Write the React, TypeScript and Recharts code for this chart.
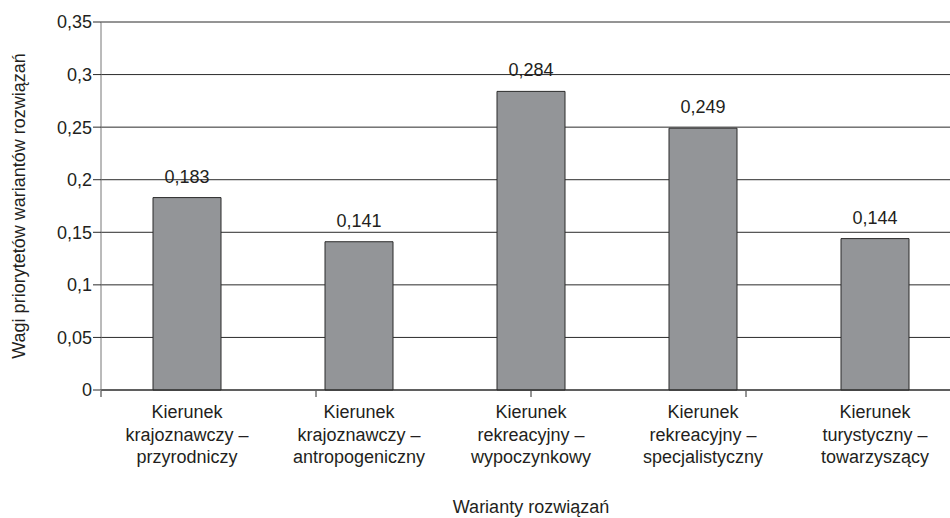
import { BarChart, Bar, XAxis, YAxis, CartesianGrid, LabelList, Label } from "recharts";

const categories = [
  "Kierunek\nkrajoznawczy –\nprzyrodniczy",
  "Kierunek\nkrajoznawczy –\nantropogeniczny",
  "Kierunek\nrekreacyjny –\nwypoczynkowy",
  "Kierunek\nrekreacyjny –\nspecjalistyczny",
  "Kierunek\nturystyczny –\ntowarzyszący",
];
const weights = [0.183, 0.141, 0.284, 0.249, 0.144];
const yTicks = [0, 0.05, 0.1, 0.15, 0.2, 0.25, 0.3, 0.35];
const edgeTicks = [0, 1, 2, 3, 4, 5];

const data = categories.map((name, i) => ({ name, weight: weights[i] }));

const FONT = "'Liberation Sans', Arial, sans-serif";
const TEXT = "#231f20";
const SIZE = 18;

const comma = (v: number) => String(v).replace(".", ",");

function CategoryTick(props: any) {
  const { x, y, payload } = props;
  const lines = String(payload.value).split("\n");
  return (
    <text x={x} y={y + 26} textAnchor="middle" fontSize={SIZE} fontFamily={FONT} fill={TEXT}>
      {lines.map((l, i) => (
        <tspan key={i} x={x} dy={i === 0 ? 0 : 22.5}>
          {l}
        </tspan>
      ))}
    </text>
  );
}

export default function App() {
  return (
    <div style={{ position: "absolute", left: 0, top: 0, width: 950, height: 518, overflow: "hidden", background: "#fff" }}>
      <BarChart width={962} height={518} data={data} margin={{ top: 22, right: 1, left: 0, bottom: 0 }} barSize={68}>
        <CartesianGrid horizontal vertical={false} stroke="#2b2b2b" />
        <XAxis
          xAxisId="edges"
          type="number"
          domain={[0, 5]}
          ticks={edgeTicks}
          height={127}
          tick={() => <g />}
          tickSize={6}
          axisLine={false}
          tickLine={{ stroke: "#2b2b2b" }}
        >
          <Label
            content={(p: any) => {
              const vb = p.viewBox;
              return (
                <text x={vb.x + vb.width / 2} y={513} textAnchor="middle" fontSize={SIZE} fontFamily={FONT} fill={TEXT}>
                  Warianty rozwiązań
                </text>
              );
            }}
          />
        </XAxis>
        <XAxis
          dataKey="name"
          height={1}
          tickLine={false}
          tickSize={0}
          axisLine={{ stroke: "#2b2b2b" }}
          tick={<CategoryTick />}
          interval={0}
        />
        <YAxis
          width={101}
          domain={[0, 0.35]}
          ticks={yTicks}
          tickFormatter={comma}
          tickSize={8}
          tickMargin={1}
          axisLine={{ stroke: "#777" }}
          tickLine={{ stroke: "#2b2b2b" }}
          tick={{ fontSize: SIZE, fontFamily: FONT, fill: TEXT }}
        >
          <Label
            content={(p: any) => {
              const vb = p.viewBox;
              const cy = vb.y + vb.height / 2;
              return (
                <text
                  x={19}
                  y={cy}
                  transform={`rotate(-90, 19, ${cy})`}
                  textAnchor="middle"
                  dominantBaseline="central"
                  fontSize={SIZE}
                  fontFamily={FONT}
                  fill={TEXT}
                >
                  Wagi priorytetów wariantów rozwiązań
                </text>
              );
            }}
          />
        </YAxis>
        <Bar dataKey="weight" fill="#939598" stroke="#2b2b2b" strokeWidth={1} isAnimationActive={false}>
          <LabelList
            dataKey="weight"
            position="top"
            offset={15}
            formatter={(v: any) => comma(Number(v))}
            style={{ fontSize: SIZE, fontFamily: FONT, fill: TEXT }}
          />
        </Bar>
      </BarChart>
    </div>
  );
}
